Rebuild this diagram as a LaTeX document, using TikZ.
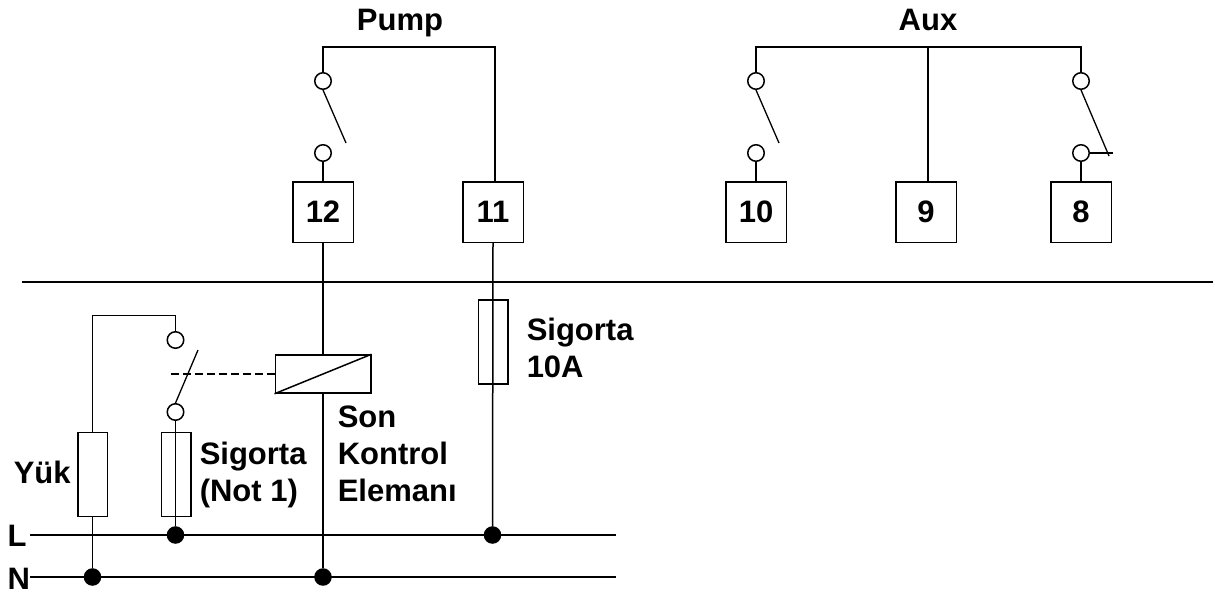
\documentclass[tikz,border=0pt]{standalone}
\usepackage{fontspec}
\setmainfont{Liberation Sans}
\begin{document}
\begin{tikzpicture}[x=1pt,y=-1pt,line width=1.5pt,line join=miter,
  termbox/.style={draw,minimum size=60.5pt,inner sep=0pt,font=\fontsize{31}{36}\selectfont\bfseries},
  contact/.style={draw,circle,minimum size=16.5pt,inner sep=0pt,fill=white},
  jdot/.style={draw,fill=black,circle,minimum size=16pt,inner sep=0pt},
  elem/.style={draw,minimum width=29.5pt,minimum height=84pt,inner sep=0pt},
  lab/.style={inner sep=0pt,font=\fontsize{31}{36.8}\selectfont\bfseries},
  mlab/.style={lab,align=left,anchor=north west}]
\useasboundingbox (0,0) rectangle (1215,597);
% terminals
\node[termbox] (b12) at (323,212) {12};
\node[termbox] (b11) at (493,212) {11};
\node[termbox] (b10) at (756,212) {10};
\node[termbox] (b9) at (926,212) {9};
\node[termbox] (b8) at (1081,212) {8};
% titles
\node[lab,anchor=base] (tp) at (400,30) {Pump};
\node[lab,anchor=base] (ta) at (928,30) {Aux};
% Pump
\node[contact] (p1) at (323,81) {};
\node[contact] (p2) at (323,153) {};
\coordinate (ptl) at (323,47);
\coordinate (ptr) at (495,47);
\coordinate (pb) at (346,143);
\draw (p1) -- (ptl) -- (ptr) -- (ptr |- b11.north);
\draw (p2) -- (b12.north);
\draw[line width=1.3pt] (p1.south) -- (pb);
% Aux
\node[contact] (a1) at (756,81) {};
\node[contact] (a2) at (756,153) {};
\node[contact] (a3) at (1081,81) {};
\node[contact] (a4) at (1081,153) {};
\coordinate (atl) at (756,47);
\coordinate (atr) at (1081,47);
\coordinate (atm) at (928,47);
\coordinate (ab) at (779,143);
\coordinate (ac) at (1109,156);
\coordinate (as) at (1113,153);
\draw (a1) -- (atl) -- (atr) -- (a3);
\draw (atm) -- (atm |- b9.north);
\draw (a2) -- (b10.north);
\draw (a4) -- (b8.north);
\draw[line width=1.3pt] (a1.south) -- (ab);
\draw[line width=1.3pt] (a3.south) -- (ac);
\draw (a4) -- (as);
% separator
\coordinate (s1) at (22,282);
\coordinate (s2) at (1213,282);
\draw (s1) -- (s2);
% bus
\coordinate (L1) at (30,535);
\coordinate (L2) at (616,535);
\coordinate (N1) at (30,577);
\coordinate (N2) at (616,577);
\draw (L1) -- (L2);
\draw (N1) -- (N2);
\node[jdot] (d1) at (175.5,535) {};
\node[jdot] (d2) at (492.5,535) {};
\node[jdot] (d3) at (92.5,577) {};
\node[jdot] (d4) at (323,577) {};
% fuse 10A
\node[elem] (f1) at (493,342) {};
\draw (b11.south) -- (d2);
% relay
\node[draw,minimum width=95.5pt,minimum height=38pt,inner sep=0pt] (rel) at (323,374) {};
\draw (b12.south) -- (rel.north);
\draw (rel.south) -- (d4);
\draw (rel.south west) -- (rel.north east);
% load and switch
\node[elem] (yuk) at (92.5,474.25) {};
\node[elem] (f2) at (176,474.25) {};
\node[contact] (c1) at (175.5,340) {};
\node[contact] (c2) at (175.5,412) {};
\coordinate (ctl) at (92.5,315.5);
\coordinate (ctr) at (175.5,315.5);
\coordinate (cb) at (198,350);
\coordinate (dl) at (171,374);
\draw (yuk.north) -- (ctl) -- (ctr) -- (c1);
\draw (yuk.south) -- (d3);
\draw (c2) -- (d1);
\draw[line width=1.3pt] (c2.north) -- (cb);
\draw[dash pattern=on 8pt off 4pt] (rel.west) -- (dl);
% labels
\node[mlab] (l1) at (526,317) {Sigorta\\10A};
\node[mlab] (l2) at (337,405) {Son\\Kontrol\\Elemanı};
\node[mlab] (l3) at (199,441) {Sigorta\\(Not 1)};
\node[lab,anchor=base west] (l4) at (13,483) {Yük};
\node[lab,anchor=base west] (l5) at (7,546) {L};
\node[lab,anchor=base west] (l6) at (7,589) {N};
\end{tikzpicture}
\end{document}
